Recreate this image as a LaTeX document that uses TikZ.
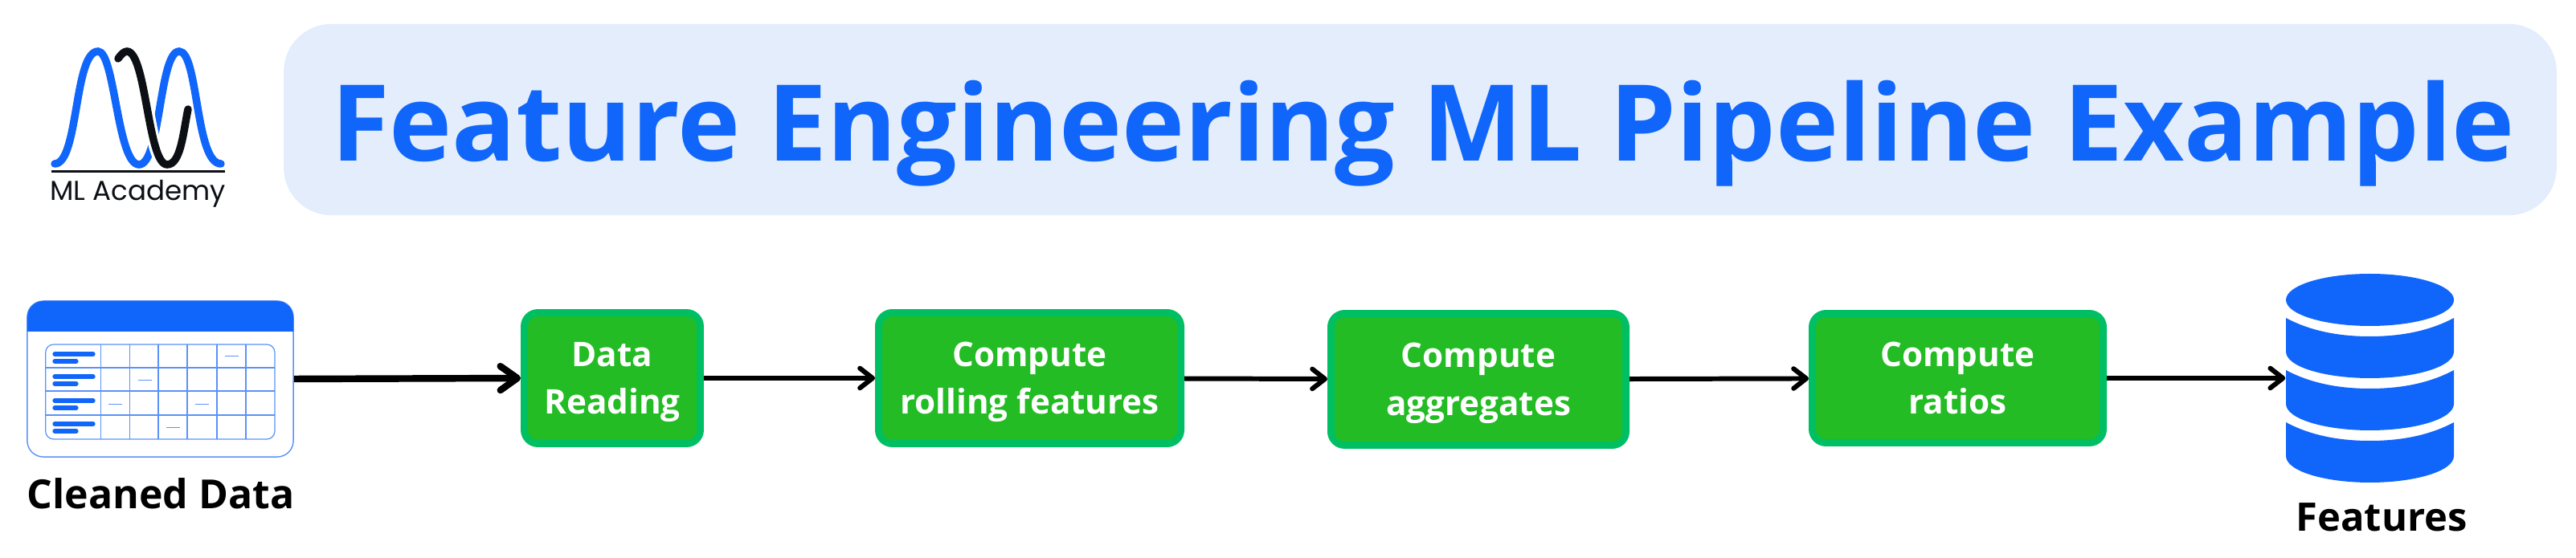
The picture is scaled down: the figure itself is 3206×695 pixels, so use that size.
\documentclass[tikz,border=0pt]{standalone}
\usepackage{fontspec}
\setmainfont{Open Sans}
\newfontfamily\logofont{Poppins}
\usetikzlibrary{arrows.meta,calc}
\definecolor{brandblue}{HTML}{1066FB}
\definecolor{titlebg}{HTML}{E4EDFC}
\definecolor{boxfill}{HTML}{23BC24}
\definecolor{boxedge}{HTML}{00BF63}
\definecolor{logoblack}{HTML}{0C0F14}
\definecolor{gridblue}{HTML}{5A92F8}
\newcommand{\steplines}[2]{\rule{0pt}{12pt}#1\\\rule[-3.46pt]{0pt}{3.46pt}#2}
\tikzset{
  x=0.01cm,y=-0.01cm,
  stepbox/.style={draw=boxedge,line width=2.5pt,fill=boxfill,rounded corners=0.17cm,text=white,align=center,inner sep=0pt,
    font=\fontsize{12}{16.8}\selectfont\bfseries},
  flow/.style={draw=black,line width=1.7pt,-{Straight Barb[length=4.5pt,width=7pt,line width=1.7pt,round]}},
  flowthick/.style={draw=black,line width=2.4pt,-{Straight Barb[length=6pt,width=8.5pt,line width=2.4pt,round]}},
  caption/.style={text=black,inner sep=0pt,anchor=base,font=\fontsize{14.2}{17}\selectfont\bfseries},
  wave/.style={line width=2.7pt,line cap=round},
  grid line/.style={draw=gridblue,line width=0.35pt},
  pill/.style={line width=1.5pt,line cap=round,draw=brandblue},
}
\begin{document}
\begin{tikzpicture}
\useasboundingbox (0,0) rectangle (3206,695);
% title
\node[fill=titlebg,rounded corners=0.59cm,minimum width=28.27cm,minimum height=2.38cm,inner sep=0pt] (titlebox) at (1767.5,149) {};
\node[inner sep=0pt,anchor=base,text=brandblue,font=\fontsize{37.55}{44}\selectfont\bfseries] (title) at (1771,201) {Feature Engineering ML Pipeline Example};
% logo
\draw[wave,brandblue] (68,204) .. controls (98,204) and (92,64) .. (122,64) .. controls (143,64) and (146,205) .. (173,205) .. controls (200,205) and (198,64) .. (223,64) .. controls (247,64) and (243,204) .. (275,204);
\begin{scope}
\clip (168,110) rectangle (228,230);
\draw[white,line width=4.6pt] (158,64) .. controls (182,64) and (184,205) .. (208,205) .. controls (225,205) and (228,165) .. (234,136);
\end{scope}
\draw[wave,logoblack] (147,73) .. controls (151,67) and (155,64) .. (158,64) .. controls (182,64) and (184,205) .. (208,205) .. controls (225,205) and (228,165) .. (234,136);
\coordinate (rulestart) at (64,214);
\coordinate (ruleend) at (280,214);
\draw[logoblack,line width=0.85pt] (rulestart) -- (ruleend);
\node[logoblack,inner sep=0pt,anchor=base,font=\logofont\fontsize{9.7}{12}\selectfont] (logo) at (171.5,250) {ML Academy};
% table icon
\node[draw=gridblue,line width=0.4pt,rounded corners=0.2cm,fill=white,inner sep=0pt,minimum width=3.31cm,minimum height=1.94cm] (cleaned) at (199.5,472) {};
\fill[brandblue] (34,413) {[rounded corners=0.2cm] -- (34,375) -- (365,375)} -- (365,413) -- cycle;
\draw[grid line,rounded corners=0.1cm] (56.7,429) rectangle (342,547);
\foreach \x in {125.7,161.7,197,233,270,306} \draw[grid line] (\x,429) -- (\x,547);
\foreach \y in {458,487,517} \draw[grid line] (56.7,\y) -- (342,\y);
\foreach \y in {441,469,499,528} {
  \draw[pill] (68,\y) -- (116,\y);
  \draw[pill] (68,\y+9) -- (95,\y+9);
}
\foreach \x/\y in {288/444,180/473,143/503,251/503,215/532} \draw[gridblue,line width=0.28pt] (\x-8.5,\y) -- (\x+8.5,\y);
\node[caption] (cleanedlabel) at (200,634) {Cleaned Data};
% steps
\node[stepbox,minimum width=2.19cm,minimum height=1.63cm] (read) at (762,471) {\steplines{Data}{Reading}};
\node[stepbox,minimum width=3.76cm,minimum height=1.63cm] (roll) at (1281.5,471) {\steplines{Compute}{rolling features}};
\node[stepbox,minimum width=3.67cm,minimum height=1.64cm] (agg) at (1840,472.5) {\steplines{Compute}{aggregates}};
\node[stepbox,minimum width=3.62cm,minimum height=1.61cm] (ratio) at (2436.5,471) {\steplines{Compute}{ratios}};
% database
\node[inner sep=0pt,minimum width=2.09cm,minimum height=2.6cm] (db) at (2949.5,471) {};
\fill[brandblue] (2949.5,373.5) ellipse [x radius=104.5,y radius=32.5];
\foreach \t in {0,65,130} {
  \fill[brandblue] (2845,\t+396) .. controls (2875,\t+412) and (2910,\t+419) .. (2949.5,\t+419) .. controls (2989,\t+419) and (3024,\t+412) .. (3054,\t+396)
    -- (3054,\t+438) .. controls (3054,\t+457) and (3005,\t+471) .. (2949.5,\t+471) .. controls (2894,\t+471) and (2845,\t+457) .. (2845,\t+438) -- cycle;
}
\node[caption,font=\fontsize{13.9}{17}\selectfont\bfseries] (featlabel) at (2964,662) {Features};
% connectors
\draw[flowthick] (cleaned.east) -- (read.west);
\draw[flow] (read) -- (roll);
\draw[flow] (roll) -- (agg);
\draw[flow] (agg) -- (ratio);
\draw[flow] (ratio) -- (db.west);
\end{tikzpicture}
\end{document}
